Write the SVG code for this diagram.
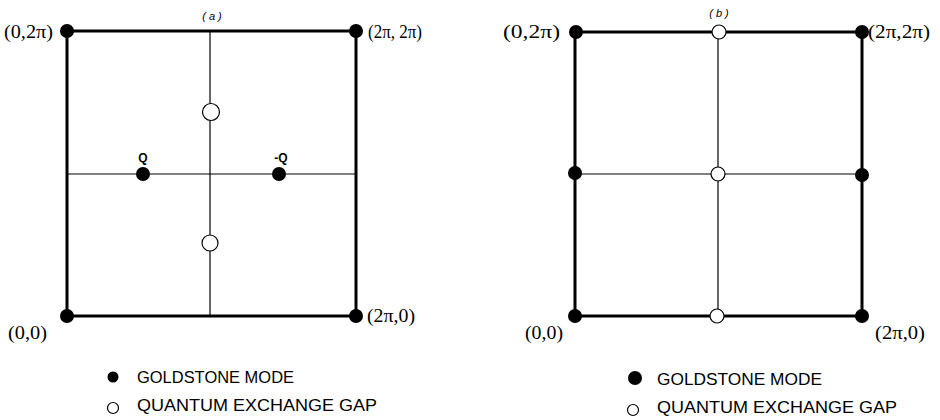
<svg xmlns="http://www.w3.org/2000/svg" width="940" height="420" viewBox="0 0 940 420">
<style>
.frame{fill:none;stroke:#000;stroke-width:3}
.thin{stroke:#000;stroke-width:1.2;fill:none}
.dot{fill:#000}
.open{fill:#fff;stroke:#000;stroke-width:1.2}
.coord{font-family:"Liberation Serif","Times New Roman",serif;font-size:18px;fill:#000}
.leg{font-family:"Liberation Sans",Arial,sans-serif;font-size:17px;fill:#000}
.tag{font-family:"Liberation Sans",Arial,sans-serif;font-size:11px;font-style:italic;fill:#000}
.small{font-family:"Liberation Sans",Arial,sans-serif;font-size:12px;font-weight:bold;fill:#000}
</style>
<rect width="940" height="420" fill="#fff"/>
<g id="connectors">
<rect class="frame" x="67" y="31" width="289" height="285"/>
<line class="thin" x1="210" y1="31" x2="210" y2="316"/>
<line class="thin" x1="67" y1="174" x2="356" y2="174"/>
<rect class="frame" x="575" y="32" width="287" height="284"/>
<line class="thin" x1="718" y1="32" x2="718" y2="316"/>
<line class="thin" x1="575" y1="174" x2="862" y2="174"/>
</g>
<g id="panel-a">
<text class="tag" x="212" y="20" text-anchor="middle">( a )</text>
<g id="a-00"><circle class="dot" cx="67" cy="316" r="7"/><text class="coord" x="8" y="339" textLength="39" lengthAdjust="spacingAndGlyphs">(0,0)</text></g>
<g id="a-02pi"><circle class="dot" cx="67" cy="31" r="7"/><text class="coord" x="4" y="38" textLength="49" lengthAdjust="spacingAndGlyphs">(0,2π)</text></g>
<g id="a-2pi2pi"><circle class="dot" cx="356" cy="31" r="7"/><text class="coord" x="368" y="38" textLength="54" lengthAdjust="spacingAndGlyphs">(2π, 2π)</text></g>
<g id="a-2pi0"><circle class="dot" cx="356" cy="316" r="7"/><text class="coord" x="367" y="322" textLength="48" lengthAdjust="spacingAndGlyphs">(2π,0)</text></g>
<g id="a-Q"><circle class="dot" cx="143" cy="174" r="7"/><text class="small" x="143" y="162" text-anchor="middle">Q</text></g>
<g id="a-mQ"><circle class="dot" cx="279" cy="174" r="7"/><text class="small" x="281" y="162" text-anchor="middle">-Q</text></g>
<g id="a-gap-up"><circle class="open" cx="211" cy="112" r="8.5"/></g>
<g id="a-gap-down"><circle class="open" cx="210" cy="243" r="8"/></g>
<g id="a-legend">
<circle class="dot" cx="113" cy="377" r="5.5"/>
<text class="leg" x="137" y="383" textLength="157" lengthAdjust="spacingAndGlyphs">GOLDSTONE MODE</text>
<circle class="open" cx="113" cy="408" r="5.5"/>
<text class="leg" x="137" y="411" textLength="240" lengthAdjust="spacingAndGlyphs">QUANTUM EXCHANGE GAP</text>
</g>
</g>
<g id="panel-b">
<text class="tag" x="719" y="17" text-anchor="middle">( b )</text>
<g id="b-00"><circle class="dot" cx="575" cy="316" r="7"/><text class="coord" x="525" y="339" textLength="38" lengthAdjust="spacingAndGlyphs">(0,0)</text></g>
<g id="b-02pi"><circle class="dot" cx="576" cy="32" r="7"/><text class="coord" x="503" y="38" textLength="57" lengthAdjust="spacingAndGlyphs">(0,2π)</text></g>
<g id="b-2pi2pi"><circle class="dot" cx="862" cy="32" r="7"/><text class="coord" x="868" y="38" textLength="62" lengthAdjust="spacingAndGlyphs">(2π,2π)</text></g>
<g id="b-2pi0"><circle class="dot" cx="862" cy="316" r="7"/><text class="coord" x="875" y="339" textLength="50" lengthAdjust="spacingAndGlyphs">(2π,0)</text></g>
<g id="b-left"><circle class="dot" cx="575" cy="173" r="7"/></g>
<g id="b-right"><circle class="dot" cx="862" cy="175" r="7"/></g>
<g id="b-top"><circle class="open" cx="719" cy="32" r="7"/></g>
<g id="b-center"><circle class="open" cx="718" cy="174" r="7"/></g>
<g id="b-bottom"><circle class="open" cx="717" cy="316" r="7"/></g>
<g id="b-legend">
<circle class="dot" cx="635" cy="378" r="7"/>
<text class="leg" x="657" y="385" textLength="165" lengthAdjust="spacingAndGlyphs">GOLDSTONE MODE</text>
<circle class="open" cx="633" cy="410" r="5.5"/>
<text class="leg" x="657" y="413" textLength="240" lengthAdjust="spacingAndGlyphs">QUANTUM EXCHANGE GAP</text>
</g>
</g>
</svg>
